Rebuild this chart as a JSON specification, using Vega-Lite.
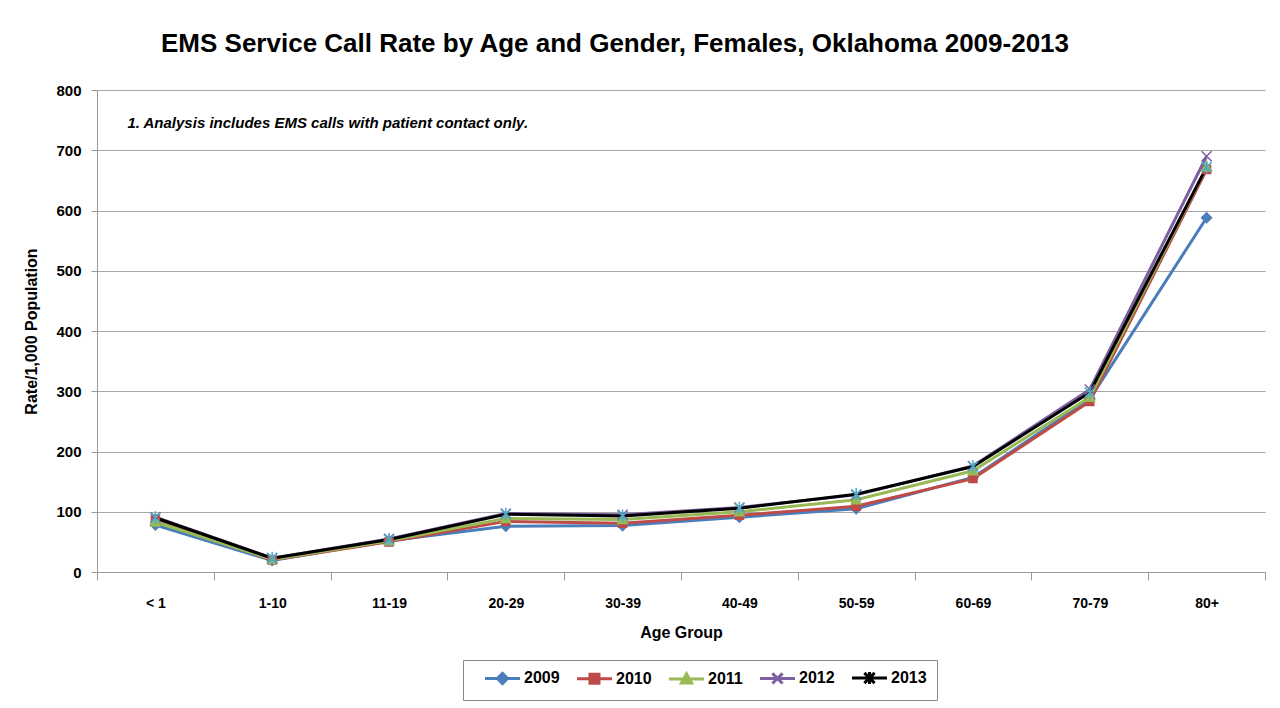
{
  "$schema": "https://vega.github.io/schema/vega-lite/v6.json",
  "autosize": {"type": "none"},
  "width": 1168,
  "height": 482,
  "padding": {"left": 97, "top": 90, "right": 15, "bottom": 136},
  "background": "white",
  "config": {
    "font": "Liberation Sans, Arial",
    "view": {"stroke": null}
  },
  "title": {
    "text": "EMS Service Call Rate by Age and Gender, Females, Oklahoma 2009-2013",
    "font": "Liberation Sans, Arial",
    "fontSize": 26,
    "fontWeight": "bold",
    "color": "#000000",
    "anchor": "middle",
    "dx": -66,
    "offset": 26
  },
  "datasets": {
    "rates": [
      {"age": "< 1", "year": "2009", "rate": 78},
      {"age": "< 1", "year": "2010", "rate": 88},
      {"age": "< 1", "year": "2011", "rate": 83},
      {"age": "< 1", "year": "2012", "rate": 91},
      {"age": "< 1", "year": "2013", "rate": 90},
      {"age": "1-10", "year": "2009", "rate": 19},
      {"age": "1-10", "year": "2010", "rate": 20},
      {"age": "1-10", "year": "2011", "rate": 21},
      {"age": "1-10", "year": "2012", "rate": 23},
      {"age": "1-10", "year": "2013", "rate": 23},
      {"age": "11-19", "year": "2009", "rate": 52},
      {"age": "11-19", "year": "2010", "rate": 50},
      {"age": "11-19", "year": "2011", "rate": 52},
      {"age": "11-19", "year": "2012", "rate": 55},
      {"age": "11-19", "year": "2013", "rate": 54},
      {"age": "20-29", "year": "2009", "rate": 76},
      {"age": "20-29", "year": "2010", "rate": 84},
      {"age": "20-29", "year": "2011", "rate": 89},
      {"age": "20-29", "year": "2012", "rate": 97},
      {"age": "20-29", "year": "2013", "rate": 96},
      {"age": "30-39", "year": "2009", "rate": 77},
      {"age": "30-39", "year": "2010", "rate": 81},
      {"age": "30-39", "year": "2011", "rate": 87},
      {"age": "30-39", "year": "2012", "rate": 95},
      {"age": "30-39", "year": "2013", "rate": 93},
      {"age": "40-49", "year": "2009", "rate": 91},
      {"age": "40-49", "year": "2010", "rate": 94},
      {"age": "40-49", "year": "2011", "rate": 100},
      {"age": "40-49", "year": "2012", "rate": 107},
      {"age": "40-49", "year": "2013", "rate": 106},
      {"age": "50-59", "year": "2009", "rate": 105},
      {"age": "50-59", "year": "2010", "rate": 109},
      {"age": "50-59", "year": "2011", "rate": 120},
      {"age": "50-59", "year": "2012", "rate": 128},
      {"age": "50-59", "year": "2013", "rate": 129},
      {"age": "60-69", "year": "2009", "rate": 157},
      {"age": "60-69", "year": "2010", "rate": 155},
      {"age": "60-69", "year": "2011", "rate": 168},
      {"age": "60-69", "year": "2012", "rate": 176},
      {"age": "60-69", "year": "2013", "rate": 175},
      {"age": "70-79", "year": "2009", "rate": 287},
      {"age": "70-79", "year": "2010", "rate": 283},
      {"age": "70-79", "year": "2011", "rate": 290},
      {"age": "70-79", "year": "2012", "rate": 303},
      {"age": "70-79", "year": "2013", "rate": 298},
      {"age": "80+", "year": "2009", "rate": 588},
      {"age": "80+", "year": "2010", "rate": 668},
      {"age": "80+", "year": "2011", "rate": 672},
      {"age": "80+", "year": "2012", "rate": 690},
      {"age": "80+", "year": "2013", "rate": 672}
    ],
    "notes": [
      {"age": "< 1", "rate": 745, "note": "1.  Analysis includes EMS calls with patient contact only."}
    ]
  },
  "data": {"name": "rates"},
  "encoding": {
    "x": {
      "field": "age",
      "type": "ordinal",
      "sort": ["< 1", "1-10", "11-19", "20-29", "30-39", "40-49", "50-59", "60-69", "70-79", "80+"],
      "scale": {"type": "band", "paddingInner": 0, "paddingOuter": 0, "domain": ["< 1", "1-10", "11-19", "20-29", "30-39", "40-49", "50-59", "60-69", "70-79", "80+"]},
      "axis": {
        "title": "Age Group",
        "titleFontSize": 16,
        "titleFontWeight": "bold",
        "titleColor": "#000000",
        "titlePadding": 14,
        "labelAngle": 0,
        "labelFontSize": 14,
        "labelFontWeight": "bold",
        "labelColor": "#000000",
        "labelPadding": 16,
        "tickBand": "extent",
        "tickSize": 8,
        "tickColor": "#9a9a9a",
        "domainColor": "#9a9a9a",
        "grid": false
      }
    },
    "y": {
      "field": "rate",
      "type": "quantitative",
      "scale": {"domain": [0, 800]},
      "axis": {
        "title": "Rate/1,000 Population",
        "titleFontSize": 16,
        "titleFontWeight": "bold",
        "titleColor": "#000000",
        "titlePadding": 16,
        "values": [0, 100, 200, 300, 400, 500, 600, 700, 800],
        "labelFontSize": 15,
        "labelFontWeight": "bold",
        "labelColor": "#000000",
        "labelPadding": 10,
        "tickSize": 6,
        "tickColor": "#9a9a9a",
        "domainColor": "#9a9a9a",
        "gridColor": "#a6a6a6",
        "grid": true
      }
    }
  },
  "layer": [
    {
      "mark": {"type": "line", "strokeWidth": 3},
      "encoding": {
        "color": {
          "field": "year",
          "type": "nominal",
          "scale": {
            "domain": ["2009", "2010", "2011", "2012", "2013"],
            "range": ["#4a7ebb", "#be4b48", "#98b954", "#7d60a0", "#000000"]
          },
          "legend": {
            "title": null,
            "orient": "none",
            "legendX": 366,
            "legendY": 570,
            "direction": "horizontal",
            "columns": 5,
            "padding": 10,
            "strokeColor": "#888888",
            "fillColor": "white",
            "labelFontSize": 16,
            "labelFontWeight": "bold",
            "labelColor": "#000000",
            "labelBaseline": "middle",
            "symbolSize": 144,
            "symbolStrokeWidth": 3,
            "columnPadding": 5,
            "labelOffset": 35,
            "encode": {
              "symbols": {
                "update": {
                  "shape": {"signal": "datum.value === '2009' ? 'M0.667,0H6.5M3.58,-0.85L4.43,0L3.58,0.85L2.73,0Z' : datum.value === '2010' ? 'M0.667,0H6.5M2.83,-0.75H4.33V0.75H2.83Z' : datum.value === '2011' ? 'M0.667,0H6.5M3.58,-0.85L4.43,0.7H2.73Z' : datum.value === '2012' ? 'M0.667,0H6.5M2.73,-0.85L4.43,0.85M2.73,0.85L4.43,-0.85' : 'M0.667,0H6.5M2.73,-0.85L4.43,0.85M2.73,0.85L4.43,-0.85M3.58,-1V1'"},
                  "fill": {"signal": "datum.value === '2009' ? '#4a7ebb' : datum.value === '2010' ? '#be4b48' : datum.value === '2011' ? '#98b954' : 'transparent'"}
                }
              }
            }
          }
        }
      }
    },
    {
      "mark": {"type": "point", "filled": true, "strokeWidth": 1.5, "opacity": 1, "size": 100},
      "encoding": {
        "shape": {
          "condition": [
            {"test": "datum.year === '2009'", "value": "M0,-1L1,0L0,1L-1,0Z"},
            {"test": "datum.year === '2010'", "value": "M-0.8,-0.8H0.8V0.8H-0.8Z"},
            {"test": "datum.year === '2011'", "value": "M0,-0.95L0.95,0.8H-0.95Z"},
            {"test": "datum.year === '2012'", "value": "M-1,-1L1,1M-1,1L1,-1"}
          ],
          "value": "M-1,-1L1,1M-1,1L1,-1M0,-1.3V1.3"
        },
        "fill": {
          "condition": [
            {"test": "datum.year === '2009'", "value": "#4a7ebb"},
            {"test": "datum.year === '2010'", "value": "#be4b48"},
            {"test": "datum.year === '2011'", "value": "#98b954"},
            {"test": "datum.year === '2012'", "value": "#7d60a0"}
          ],
          "value": "#4bacc6"
        },
        "stroke": {
          "condition": [
            {"test": "datum.year === '2009'", "value": "#4a7ebb"},
            {"test": "datum.year === '2010'", "value": "#be4b48"},
            {"test": "datum.year === '2011'", "value": "#98b954"},
            {"test": "datum.year === '2012'", "value": "#7d60a0"}
          ],
          "value": "#4bacc6"
        }
      }
    },
    {
      "data": {"name": "notes"},
      "mark": {
        "type": "text",
        "align": "left",
        "baseline": "middle",
        "dx": -28,
        "fontSize": 15,
        "fontWeight": "bold",
        "fontStyle": "italic",
        "fill": "#000000"
      },
      "encoding": {
        "text": {"field": "note", "type": "nominal"}
      }
    }
  ]
}
